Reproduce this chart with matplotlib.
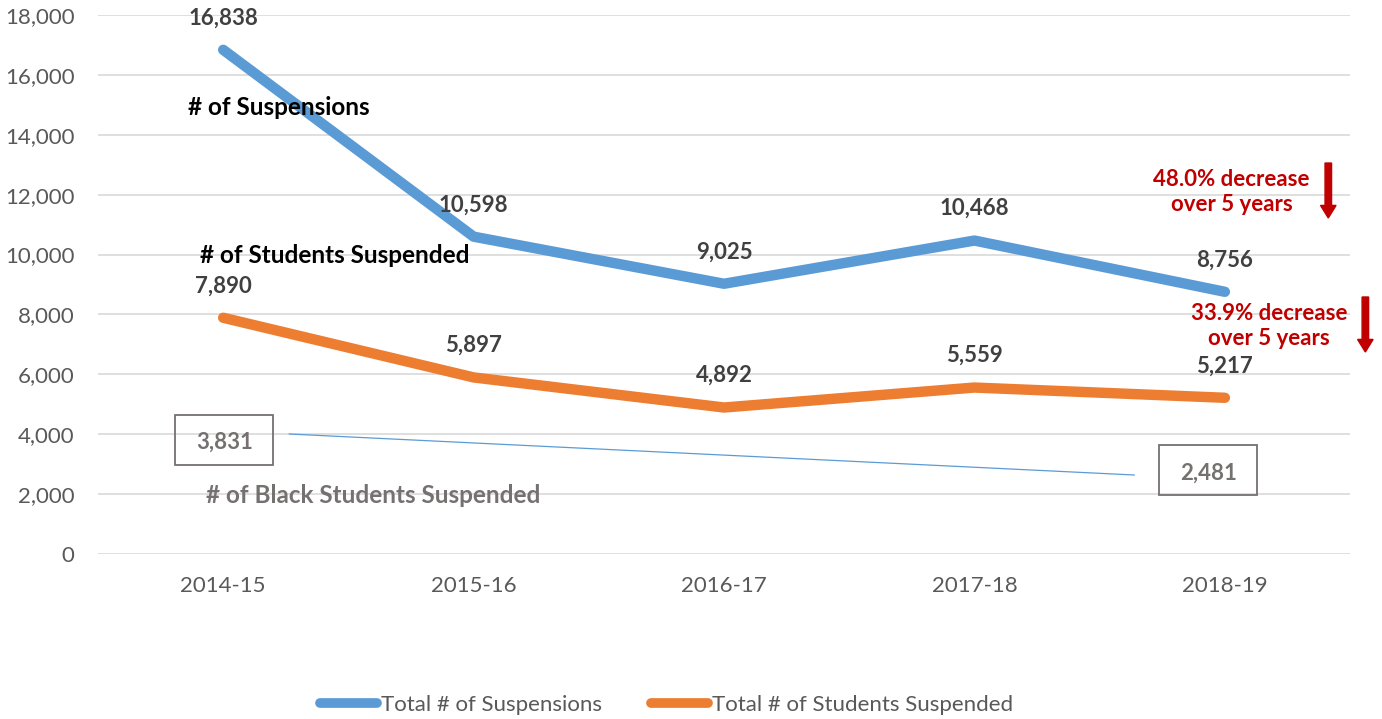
import matplotlib
matplotlib.use("Agg")
import matplotlib.pyplot as plt
from matplotlib.patches import Rectangle, FancyArrow

years = ["2014-15", "2015-16", "2016-17", "2017-18", "2018-19"]
suspensions = [16838, 10598, 9025, 10468, 8756]
students_suspended = [7890, 5897, 4892, 5559, 5217]
black_students = [3831, 2481]

plt.rcParams['font.family'] = ['Lato', 'DejaVu Sans']

fig = plt.figure(figsize=(13.82, 7.19), dpi=100)
ax = fig.add_axes([0.0709, 0.2295, 0.9060, 0.7496])

x = list(range(len(years)))
blue = "#5B9BD5"
orange = "#ED7D31"
grey = "#595959"
dark = "#404040"
red = "#C00000"

ax.plot(x, suspensions, color=blue, lw=7.5, solid_capstyle='round', solid_joinstyle='round',
        label="Total # of Suspensions", zorder=3)
ax.plot(x, students_suspended, color=orange, lw=7.5, solid_capstyle='round', solid_joinstyle='round',
        label="Total # of Students Suspended", zorder=3)

for xi, v in zip(x, suspensions):
    ax.annotate(f"{v:,}", (xi, v), xytext=(0, 23), textcoords='offset points',
                ha='center', va='center', fontsize=16, fontweight='bold', color=dark, zorder=4)
for xi, v in zip(x, students_suspended):
    ax.annotate(f"{v:,}", (xi, v), xytext=(0, 23), textcoords='offset points',
                ha='center', va='center', fontsize=16, fontweight='bold', color=dark, zorder=4)

ax.set_xlim(-0.5, 4.5)
ax.set_ylim(0, 18000)
ax.set_yticks(range(0, 18001, 2000))
ax.set_yticklabels([f"{t:,}" for t in range(0, 18001, 2000)])
ax.set_xticks(x)
ax.set_xticklabels(years)
ax.grid(axis='y', color='#D9D9D9', lw=1.2)
ax.set_axisbelow(True)
for s in ax.spines.values():
    s.set_visible(False)
ax.tick_params(axis='both', length=0, labelsize=16, labelcolor=grey)
ax.tick_params(axis='y', pad=17)
ax.tick_params(axis='x', pad=16)

# series captions
ax.text(0.224, 14928, "# of Suspensions", ha='center', va='center', fontsize=17.5,
        fontweight='bold', color='black', zorder=5)
ax.text(0.447, 9985, "# of Students Suspended", ha='center', va='center', fontsize=17.5,
        fontweight='bold', color='black', zorder=5)
ax.text(0.599, 1937, "# of Black Students Suspended", ha='center', va='center', fontsize=17.5,
        fontweight='bold', color='#767171', zorder=5)

# black students boxes and connector
box_w, box_h = 0.391, 1670
ax.add_patch(Rectangle((0.004 - box_w / 2, 3807 - box_h / 2), box_w, box_h, fill=False,
                       ec='#767171', lw=1.3, zorder=5))
ax.text(0.004, 3740, f"{black_students[0]:,}", ha='center', va='center', fontsize=16,
        fontweight='bold', color='#767171', zorder=5)
ax.add_patch(Rectangle((3.934 - box_w / 2, 2805 - box_h / 2), box_w, box_h, fill=False,
                       ec='#767171', lw=1.3, zorder=5))
ax.text(3.934, 2705, f"{black_students[1]:,}", ha='center', va='center', fontsize=16,
        fontweight='bold', color='#767171', zorder=5)
ax.plot([0.264, 3.638], [4007, 2638], color=blue, lw=0.9, zorder=2)

# red decrease notes
ax.text(4.026, 12089, "48.0% decrease\nover 5 years", ha='center', va='center', fontsize=16,
        fontweight='bold', color=red, linespacing=1.2, zorder=5, clip_on=False)
ax.text(4.177, 7614, "33.9% decrease\nover 5 years", ha='center', va='center', fontsize=16,
        fontweight='bold', color=red, linespacing=1.2, zorder=5, clip_on=False)
for ax_x, y0, y1 in [(4.413, 13057, 11221), (4.561, 8583, 6746)]:
    ax.add_patch(FancyArrow(ax_x, y0, 0, y1 - y0, width=0.026, head_width=0.062,
                            head_length=420, length_includes_head=True, color=red,
                            clip_on=False, zorder=5))

leg = fig.legend(loc='lower center', bbox_to_anchor=(0.482, -0.022), ncol=2, frameon=False,
                 fontsize=16, handlelength=2.6, handletextpad=0.15, columnspacing=2.2)
for t in leg.get_texts():
    t.set_color(grey)
for h in leg.get_lines():
    h.set_linewidth(7)
    h.set_solid_capstyle('round')

fig.savefig("out.png", dpi=100)
